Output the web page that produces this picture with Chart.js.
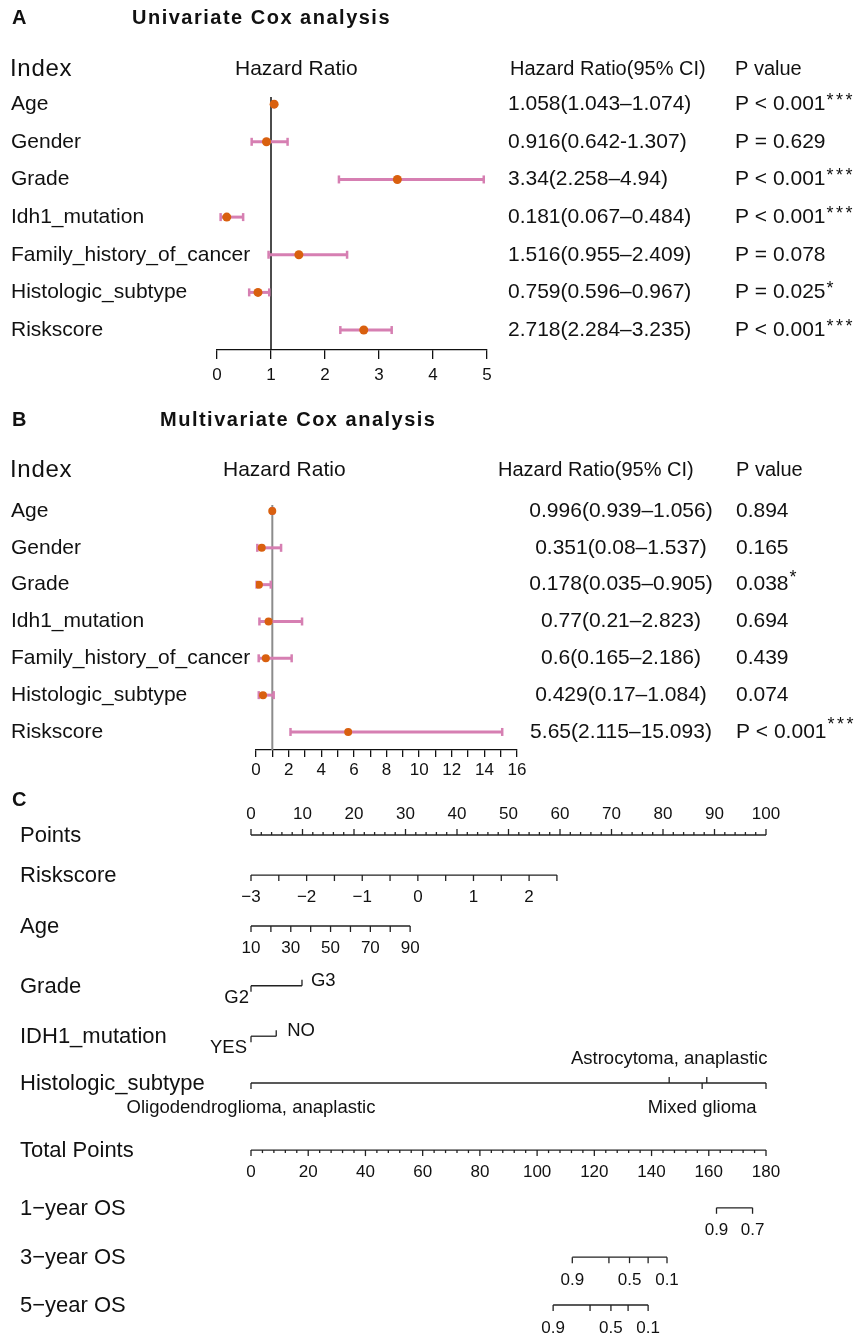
<!DOCTYPE html>
<html>
<head>
<meta charset="utf-8">
<script src="https://cdn.jsdelivr.net/npm/chart.js@4.4.1/dist/chart.umd.min.js"></script>
<style>
  body { margin: 0; background: #fff; }
  canvas { position: absolute; left: 0; }
</style>
</head>
<body>
<canvas id="chartA" width="861" height="395" style="top:0px"></canvas>
<canvas id="chartB" width="861" height="395" style="top:395px"></canvas>
<canvas id="chartC" width="861" height="550" style="top:790px"></canvas>
<script>
const FONT = '"Liberation Sans", Arial, Helvetica, sans-serif'
const INK = '#111'
const PINK = '#d67fb2'
const ORANGE = '#d9600f'

// ---------- data ----------
const variables = ['Age', 'Gender', 'Grade', 'Idh1_mutation', 'Family_history_of_cancer', 'Histologic_subtype', 'Riskscore']

// univariate
const uniHR   = [1.058, 0.916, 3.34, 0.181, 1.516, 0.759, 2.718]
const uniLow  = [1.043, 0.642, 2.258, 0.067, 0.955, 0.596, 2.284]
const uniHigh = [1.074, 1.307, 4.94, 0.484, 2.409, 0.967, 3.235]
const uniCI   = ['1.058(1.043–1.074)', '0.916(0.642-1.307)', '3.34(2.258–4.94)', '0.181(0.067–0.484)',
                 '1.516(0.955–2.409)', '0.759(0.596–0.967)', '2.718(2.284–3.235)']
const uniP     = ['P < 0.001', 'P = 0.629', 'P < 0.001', 'P < 0.001', 'P = 0.078', 'P = 0.025', 'P < 0.001']
const uniStars = ['***', '', '***', '***', '', '*', '***']

// multivariate
const multiHR   = [0.996, 0.351, 0.178, 0.77, 0.6, 0.429, 5.65]
const multiLow  = [0.939, 0.08, 0.035, 0.21, 0.165, 0.17, 2.115]
const multiHigh = [1.056, 1.537, 0.905, 2.823, 2.186, 1.084, 15.093]
const multiCI   = ['0.996(0.939–1.056)', '0.351(0.08–1.537)', '0.178(0.035–0.905)', '0.77(0.21–2.823)',
                   '0.6(0.165–2.186)', '0.429(0.17–1.084)', '5.65(2.115–15.093)']
const multiP     = ['0.894', '0.165', '0.038', '0.694', '0.439', '0.074', 'P < 0.001']
const multiStars = ['', '', '*', '', '', '', '***']

// nomogram
const nomoRows = ['Points', 'Riskscore', 'Age', 'Grade', 'IDH1_mutation', 'Histologic_subtype',
                  'Total Points', '1−year OS', '3−year OS', '5−year OS']
const pointsLabels = [0, 10, 20, 30, 40, 50, 60, 70, 80, 90, 100]
const riskTicks  = [-3, -2.5, -2, -1.5, -1, -0.5, 0, 0.5, 1, 1.5, 2, 2.5]
const riskLabels = [-3, -2, -1, 0, 1, 2]
const riskPoints = [0, 59.4]          // points at first / last tick
const ageTicks  = [10, 20, 30, 40, 50, 60, 70, 80, 90]
const ageLabels = [10, 30, 50, 70, 90]
const agePoints = [0, 30.9]
const gradeLevels = ['G2', 'G3']
const gradePoints = [0, 9.9]
const idhLevels = ['YES', 'NO']
const idhPoints = [0, 4.9]
const histLevels = ['Oligodendroglioma, anaplastic', 'Astrocytoma, anaplastic', 'Mixed glioma', '', '']
const histPoints = [0, 81.2, 87.6, 88.5, 100]
const totalLabels = [0, 20, 40, 60, 80, 100, 120, 140, 160, 180]
const os1Labels = ['0.9', '0.7']
const os1Total  = [162.7, 175.3]
const os3Labels = ['0.9', '', '0.5', '', '0.1']
const os3Total  = [112.3, 125.1, 132.3, 138.8, 145.4]
const os5Labels = ['0.9', '', '0.5', '', '0.1']
const os5Total  = [105.6, 118.5, 125.8, 131.8, 138.8]

// row spacing of the nomogram, in line units
const nomoLine = [0, 0.77, 1.75, 2.90, 3.87, 4.77, 6.06, 7.17, 8.12, 9.04]

// ---------- helpers ----------
function seg(ctx, x0, y0, x1, y1) {
    ctx.beginPath()
    ctx.moveTo(x0, y0)
    ctx.lineTo(x1, y1)
    ctx.stroke()
}
function txt(ctx, s, x, y, align, font) {
    if (font) ctx.font = font
    ctx.textAlign = align || 'left'
    ctx.fillText(s, x, y)
}
function spaced(ctx, s, x, y, font, sp) {
    ctx.font = font
    ctx.letterSpacing = sp + 'px'
    ctx.textAlign = 'left'
    ctx.fillText(s, x, y)
    ctx.letterSpacing = '0px'
}

// ---------- forest plots ----------
function forestPlugin(o) {
    return {
        id: 'forest' + o.tag,
        beforeDatasetsDraw(chart) {
            const { ctx, chartArea } = chart
            const x = chart.scales.x, y = chart.scales.y
            ctx.save()
            ctx.strokeStyle = o.refColor
            ctx.lineWidth = o.refWidth
            const x1 = x.getPixelForValue(1)
            seg(ctx, x1, chartArea.top, x1, chartArea.bottom)

            ctx.strokeStyle = PINK
            o.low.forEach((lo, i) => {
                const yy = y.getPixelForValue(i)
                const a = x.getPixelForValue(lo), b = x.getPixelForValue(o.high[i])
                ctx.lineWidth = 3
                seg(ctx, a, yy, b, yy)
                ctx.lineWidth = 2.5
                seg(ctx, a, yy - 4, a, yy + 4)
                seg(ctx, b, yy - 4, b, yy + 4)
            })
            ctx.restore()
        },
        afterDraw(chart) {
            const ctx = chart.ctx, y = chart.scales.y
            ctx.save()
            ctx.fillStyle = INK
            ctx.textBaseline = 'middle'

            txt(ctx, o.tag, 12, o.titleY, 'left', 'bold 20px ' + FONT)
            spaced(ctx, o.title, o.titleX, o.titleY, 'bold 20px ' + FONT, 1.5)

            spaced(ctx, 'Index', 10, o.headY, '24px ' + FONT, 0.7)
            txt(ctx, 'Hazard Ratio', o.hrHeadX, o.headY, 'left', '21px ' + FONT)
            txt(ctx, 'Hazard Ratio(95% CI)', o.ciHeadX, o.headY, 'left', '20px ' + FONT)
            txt(ctx, 'P value', o.pX, o.headY, 'left', '20px ' + FONT)

            variables.forEach((v, i) => {
                const yy = y.getPixelForValue(i)
                txt(ctx, v, 11, yy, 'left', '21px ' + FONT)
                txt(ctx, o.ci[i], o.ciX, yy, o.ciAlign, '21px ' + FONT)
                txt(ctx, o.p[i], o.pX, yy, 'left', '21px ' + FONT)
                if (o.stars[i]) {
                    const w = ctx.measureText(o.p[i]).width
                    spaced(ctx, o.stars[i], o.pX + w + 1, yy - o.starLift, '18px ' + FONT, 2.5)
                }
            })
            ctx.restore()
        }
    }
}

function forestChart(id, o) {
    return new Chart(document.getElementById(id), {
        type: 'scatter',
        data: {
            datasets: [{
                data: o.hr.map((v, i) => ({ x: v, y: i })),
                pointRadius: o.r,
                pointBackgroundColor: ORANGE,
                pointBorderWidth: 0
            }]
        },
        options: {
            responsive: false,
            animation: false,
            events: [],
            layout: { padding: o.pad },
            plugins: { legend: { display: false }, tooltip: { enabled: false } },
            scales: {
                x: {
                    type: 'linear', min: 0, max: o.xmax,
                    afterFit: s => { s.height = o.axisH },
                    ticks: {
                        stepSize: 1, autoSkip: false, maxRotation: 0, padding: o.tickPad,
                        color: INK, font: { family: FONT, size: 17 },
                        callback: v => (v % o.labelEvery === 0 ? v : '')
                    },
                    grid: { drawOnChartArea: false, tickLength: o.tickLen, color: INK, lineWidth: 1.3 },
                    border: { color: INK, width: 1.3 }
                },
                y: { type: 'linear', reverse: true, min: o.ymin, max: o.ymax, display: false }
            }
        },
        plugins: [forestPlugin(o)]
    })
}

forestChart('chartA', {
    tag: 'A', title: 'Univariate Cox analysis', titleX: 132, titleY: 18,
    headY: 69, hrHeadX: 235, ciHeadX: 510, pX: 735,
    hr: uniHR, low: uniLow, high: uniHigh, ci: uniCI, ciX: 508, ciAlign: 'left',
    p: uniP, stars: uniStars, starLift: 3,
    xmax: 5, labelEvery: 1, r: 4.5,
    pad: { left: 217, right: 374, top: 97, bottom: 0 },
    ymin: -0.19, ymax: 6.53, axisH: 45, tickLen: 9, tickPad: 6,
    refColor: '#111', refWidth: 1.5
})

forestChart('chartB', {
    tag: 'B', title: 'Multivariate Cox analysis', titleX: 160, titleY: 25,
    headY: 75, hrHeadX: 223, ciHeadX: 498, pX: 736,
    hr: multiHR, low: multiLow, high: multiHigh, ci: multiCI, ciX: 621, ciAlign: 'center',
    p: multiP, stars: multiStars, starLift: 7,
    xmax: 16, labelEvery: 2, r: 4,
    pad: { left: 256, right: 344, top: 110, bottom: 0 },
    ymin: -0.163, ymax: 6.49, axisH: 40, tickLen: 7, tickPad: 3,
    refColor: '#8c8c8c', refWidth: 2
})

// ---------- nomogram ----------
const nomoPlugin = {
    id: 'nomogram',
    afterDraw(chart) {
        const ctx = chart.ctx
        const x = chart.scales.x, y = chart.scales.y
        const px = p => x.getPixelForValue(p)
        const py = i => y.getPixelForValue(nomoLine[i])
        const tickFont = '17px ' + FONT
        const catFont = '18.5px ' + FONT
        const lin = (v, t0, t1, p) => p[0] + (v - t0) / (t1 - t0) * (p[1] - p[0])
        const num = v => (v < 0 ? '−' + Math.abs(v) : String(v))

        ctx.save()
        ctx.fillStyle = INK
        ctx.strokeStyle = '#222'
        ctx.lineWidth = 1.3
        ctx.textBaseline = 'middle'

        txt(ctx, 'C', 12, 10, 'left', 'bold 20px ' + FONT)
        nomoRows.forEach((r, i) => txt(ctx, r, 20, py(i) + 1, 'left', '22px ' + FONT))

        // Points
        let yy = py(0)
        seg(ctx, px(0), yy, px(100), yy)
        for (let p = 0; p <= 100; p += 2) seg(ctx, px(p), yy, px(p), yy - (p % 10 === 0 ? 6 : 3))
        ctx.font = tickFont
        pointsLabels.forEach(p => txt(ctx, String(p), px(p), yy - 21, 'center'))

        // Riskscore
        yy = py(1)
        const rp = v => px(lin(v, riskTicks[0], riskTicks[riskTicks.length - 1], riskPoints))
        seg(ctx, rp(riskTicks[0]), yy, rp(riskTicks[riskTicks.length - 1]), yy)
        riskTicks.forEach(v => seg(ctx, rp(v), yy, rp(v), yy + 6))
        ctx.font = tickFont
        riskLabels.forEach(v => txt(ctx, num(v), rp(v), yy + 22, 'center'))

        // Age
        yy = py(2)
        const ap = v => px(lin(v, ageTicks[0], ageTicks[ageTicks.length - 1], agePoints))
        seg(ctx, ap(ageTicks[0]), yy, ap(ageTicks[ageTicks.length - 1]), yy)
        ageTicks.forEach(v => seg(ctx, ap(v), yy, ap(v), yy + 6))
        ctx.font = tickFont
        ageLabels.forEach(v => txt(ctx, String(v), ap(v), yy + 22, 'center'))

        // two-level factors
        const twoLevel = (row, levels, pts, dl, dr) => {
            const yl = py(row)
            const a = px(pts[0]), b = px(pts[1])
            seg(ctx, a, yl, b, yl)
            seg(ctx, a, yl, a, yl + 6)
            seg(ctx, b, yl, b, yl - 6)
            ctx.font = catFont
            txt(ctx, levels[0], a - dl, yl + 12, 'right')
            txt(ctx, levels[1], b + dr, yl - 5, 'left')
        }
        twoLevel(3, gradeLevels, gradePoints, 2, 9)
        twoLevel(4, idhLevels, idhPoints, 4, 11)

        // Histologic subtype
        yy = py(5)
        seg(ctx, px(histPoints[0]), yy, px(histPoints[histPoints.length - 1]), yy)
        ctx.font = catFont
        histPoints.forEach((p, i) => {
            const down = i % 2 === 0
            seg(ctx, px(p), yy, px(p), yy + (down ? 6 : -6))
            if (histLevels[i]) txt(ctx, histLevels[i], px(p), yy + (down ? 25 : -24), 'center')
        })

        // Total points
        yy = py(6)
        const tp = t => px(t * 100 / 180)
        seg(ctx, tp(0), yy, tp(180), yy)
        for (let t = 0; t <= 180; t += 4) seg(ctx, tp(t), yy, tp(t), yy + (t % 20 === 0 ? 6 : 3))
        ctx.font = tickFont
        totalLabels.forEach(t => txt(ctx, String(t), tp(t), yy + 22, 'center'))

        // survival rows
        const osRow = (row, tot, labels) => {
            const yl = py(row)
            seg(ctx, tp(tot[0]), yl, tp(tot[tot.length - 1]), yl)
            ctx.font = tickFont
            tot.forEach((t, i) => {
                seg(ctx, tp(t), yl, tp(t), yl + 6)
                if (labels[i]) txt(ctx, labels[i], tp(t), yl + 23, 'center')
            })
        }
        osRow(7, os1Total, os1Labels)
        osRow(8, os3Total, os3Labels)
        osRow(9, os5Total, os5Labels)

        ctx.restore()
    }
}

new Chart(document.getElementById('chartC'), {
    type: 'scatter',
    data: { datasets: [] },
    options: {
        responsive: false,
        animation: false,
        events: [],
        layout: { padding: { left: 251, right: 95, top: 45, bottom: 35 } },
        plugins: { legend: { display: false }, tooltip: { enabled: false } },
        scales: {
            x: { type: 'linear', min: 0, max: 100, display: false },
            y: { type: 'linear', reverse: true, min: 0, max: 9.04, display: false }
        }
    },
    plugins: [nomoPlugin]
})
</script>
</body>
</html>
